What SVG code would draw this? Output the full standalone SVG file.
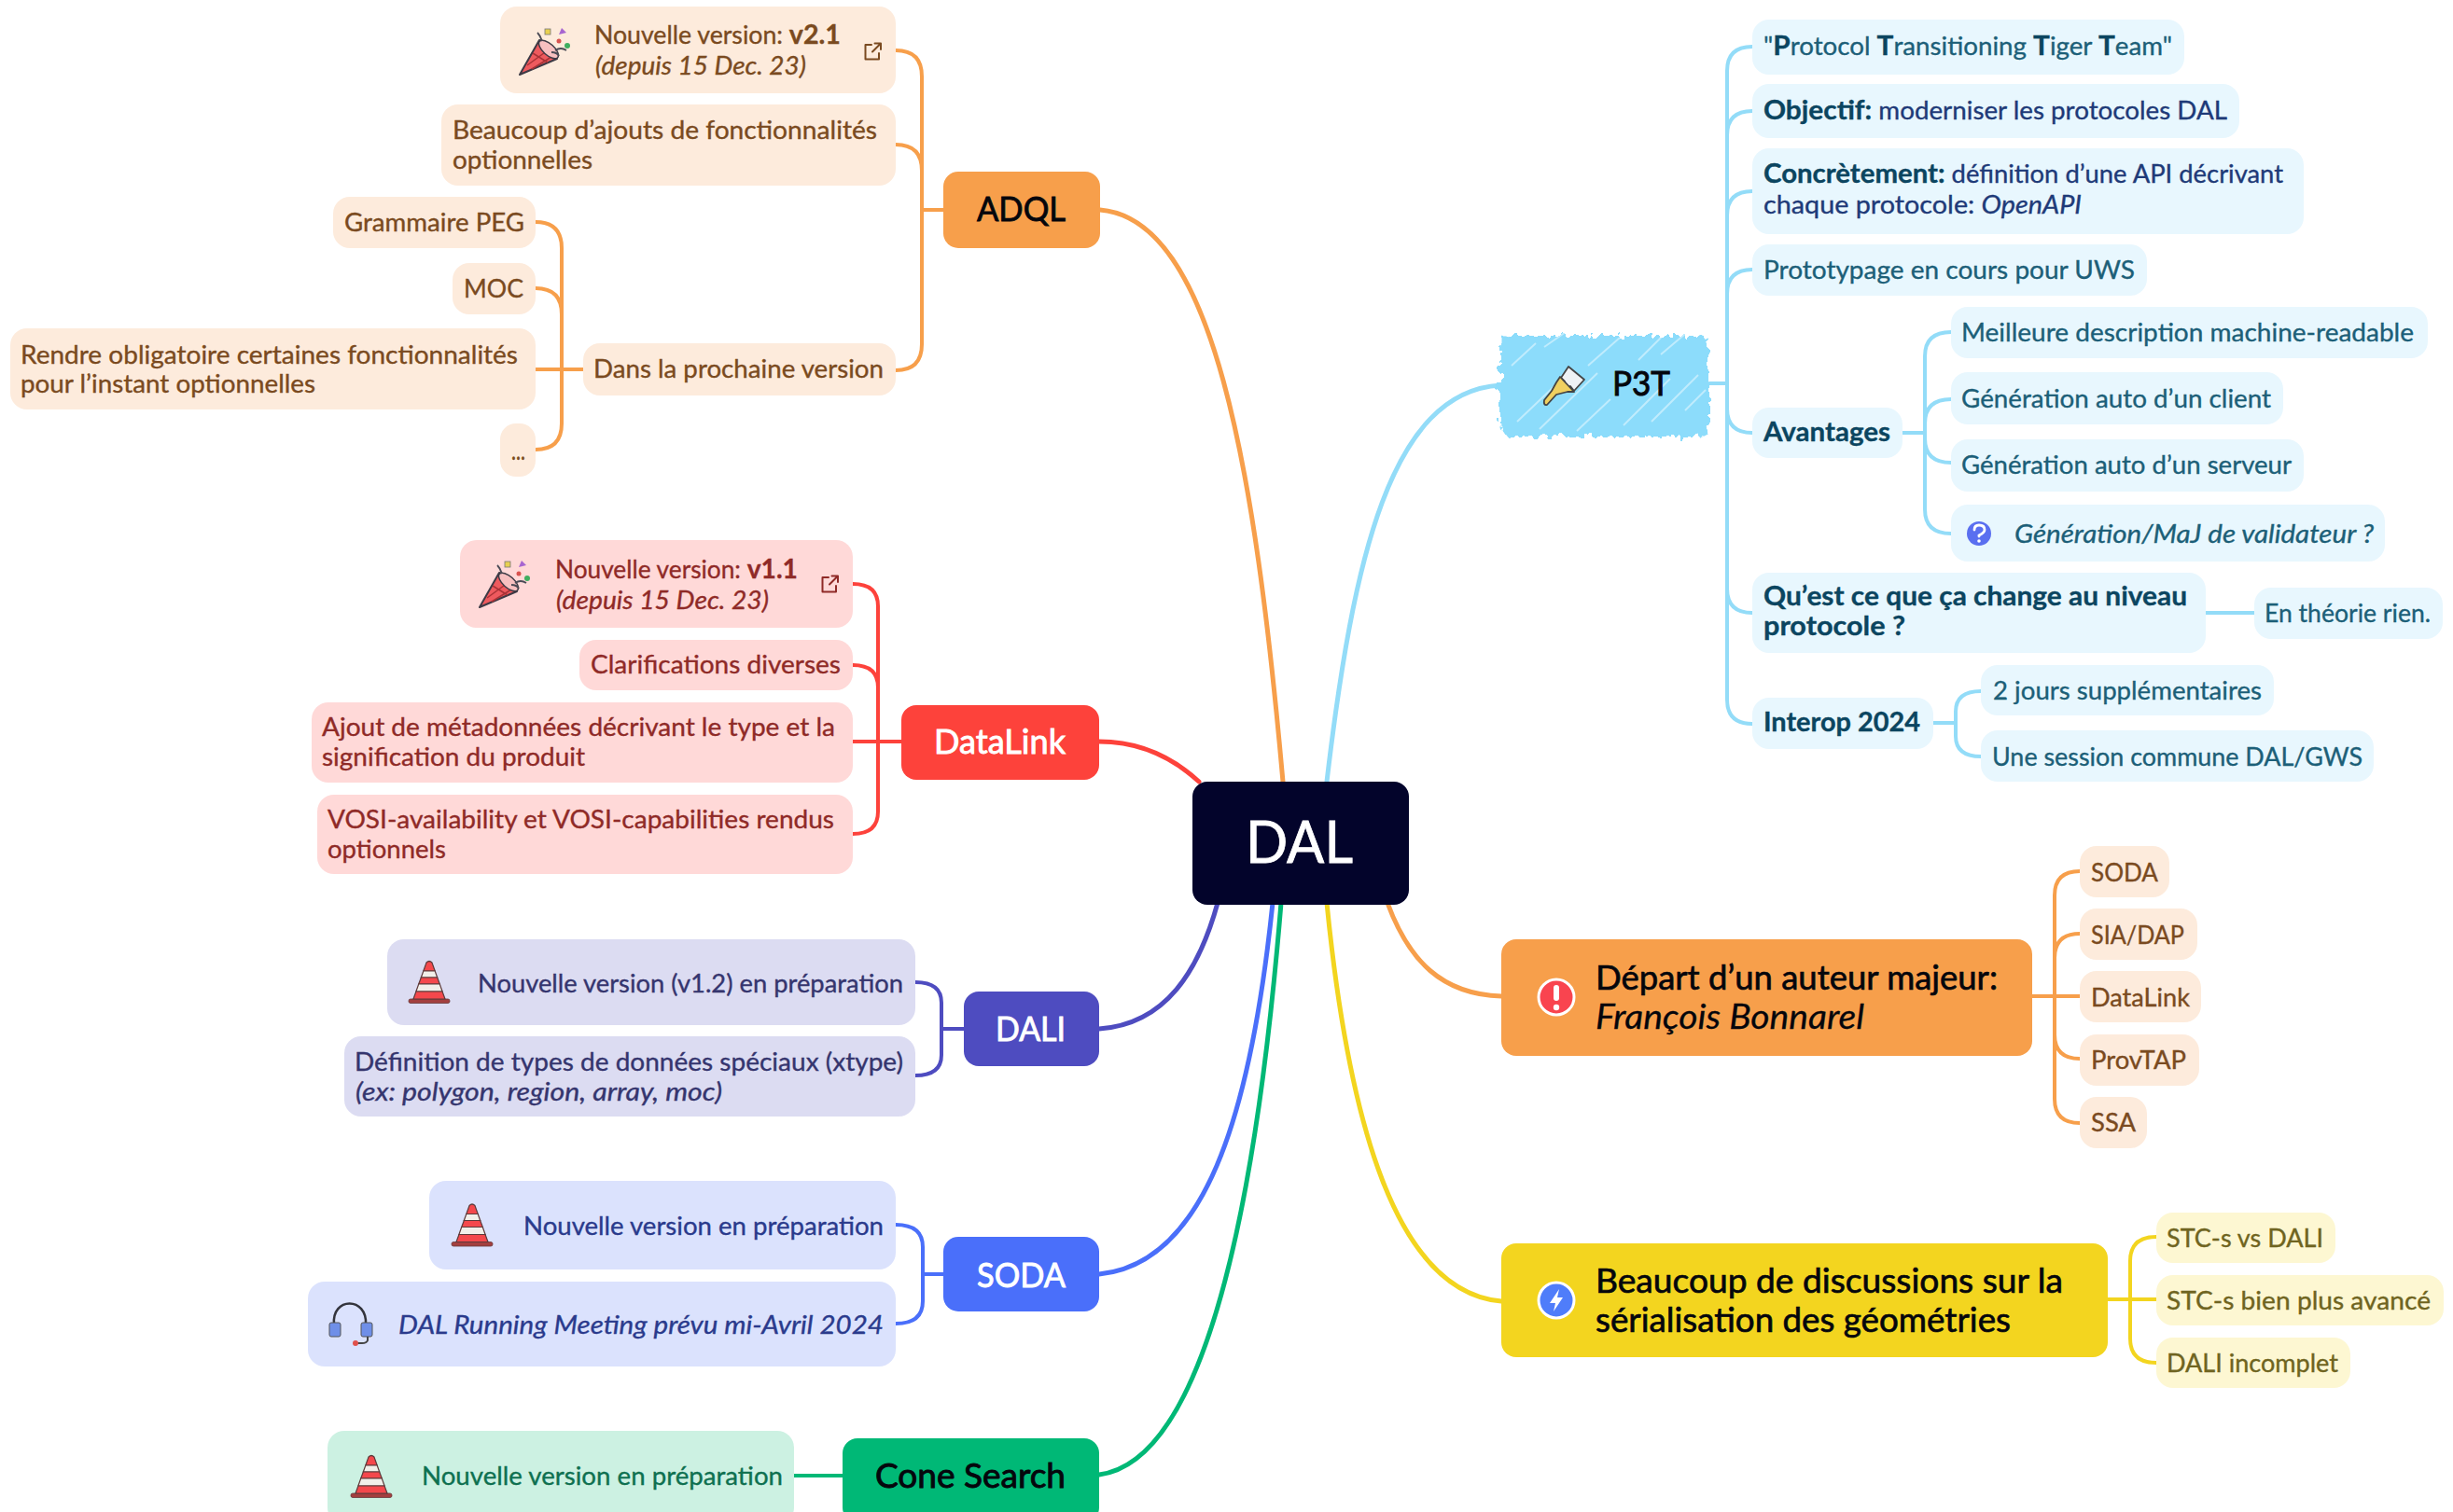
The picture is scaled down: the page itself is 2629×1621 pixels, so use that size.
<svg xmlns="http://www.w3.org/2000/svg" width="2629" height="1621" viewBox="0 0 2629 1621">
<style>
text{font-family:"Lato","Noto Sans",sans-serif;font-size:27px;fill:currentColor;stroke:currentColor;stroke-width:.35}
.b{font-weight:700;font-size:29px}
.i{font-style:italic}
.h{font-size:37px;stroke-width:.9}
.m{font-size:37px;stroke-width:.7}
.adql,.ora{color:#7a4a20}.adql rect,.ora rect{fill:#fdebdc}
.dl{color:#8f2a27}.dl rect{fill:#ffd9d8}
.dali{color:#35356e}.dali rect{fill:#dcdcf2}
.soda{color:#2a3a8c}.soda rect{fill:#dbe2fd}
.cone{color:#0e7050}.cone rect{fill:#ccf1e2}
.p3{color:#1c5f78}.p3 rect{fill:#e8f7fe}.p3 .n{color:#1e3a78}.p3 .b{color:#0b4560}
.yel{color:#6f6420}.yel rect{fill:#fdf7d2}
.wt{color:#fff}.bk{color:#05060c}
#connectors path{fill:none;stroke-width:4;stroke-linecap:round}
#connectors .main{stroke-width:5}
.co{stroke:#f79f4b}.cr{stroke:#fd423b}.cd{stroke:#4e4cc0}.cs{stroke:#4a6ffa}.cg{stroke:#00b876}.cb{stroke:#93dcf8}.cy{stroke:#f3d51f}
</style>
<defs>
<symbol id="cone" viewBox="0 0 44 48" overflow="visible">
<rect x="0" y="42" width="44" height="4.5" rx="2" fill="#a33f3f" stroke="#6a3a3a" stroke-width=".8"/>
<g stroke="#5c3a3a" stroke-width="1.2">
<path d="M19 3Q22 0 25 3L28.200 12H15.800Z" fill="#f4484c"/>
<path d="M15.800 12H28.200L30.700 19H13.300Z" fill="#f2efe9"/>
<path d="M13.300 19H30.700L33.300 26H10.700Z" fill="#f4484c"/>
<path d="M10.700 26H33.300L36.100 34H7.900Z" fill="#f2efe9"/>
<path d="M7.900 34H36.100L39 42H5Z" fill="#f4484c"/>
</g>
</symbol>
<symbol id="party" viewBox="0 0 58 52" overflow="visible">
<path d="M0 50L21 13Q34 16 40 33Z" fill="#ee5a5e" stroke="#3d3a45" stroke-width="2" stroke-linejoin="round"/>
<path d="M8 40L30 24M13 44L34 31M14 27L30 37" stroke="#a83236" stroke-width="1.500" fill="none"/>
<ellipse cx="31" cy="23" rx="13" ry="6" transform="rotate(42 31 23)" fill="#f7c0c0" stroke="#3d3a45" stroke-width="1.500"/>
<path d="M24 14Q22 8 19 5M34 26Q40 26 42 30 M38 24Q44 20 50 24" stroke="#4a4a55" stroke-width="1.800" fill="none"/>
<rect x="27" y="1" width="6" height="6" fill="#e8d050" stroke="#777" stroke-width=".8"/>
<path d="M42 7L45 0L50 5Z" fill="#a765d0"/>
<circle cx="42" cy="14" r="2.500" fill="#d9534f"/>
<circle cx="51" cy="19" r="3" fill="#3fae60"/>
</symbol>
<symbol id="ext" viewBox="0 0 20 20" overflow="visible">
<path d="M9 3H2.500V18.500H17V12M10 10.500L18.500 2M12.500 1.500H19V8" fill="none" stroke-width="2" stroke-linecap="round" stroke-linejoin="round"/>
</symbol>
<filter id="rough" x="-8%" y="-15%" width="116%" height="130%">
<feTurbulence type="fractalNoise" baseFrequency="0.14 0.1" numOctaves="2" seed="7"/>
<feDisplacementMap in="SourceGraphic" scale="14" xChannelSelector="R" yChannelSelector="G"/>
</filter>
</defs>
<rect width="2629" height="1621" fill="#fff"/>
<g id="connectors">
<path class="co main" d="M1179 225C1300 235 1345 500 1375 838"/>
<path class="cr main" d="M1178 795C1225 795 1260 815 1285 838"/>
<path class="cd main" d="M1178 1103C1250 1098 1285 1040 1305 968"/>
<path class="cs main" d="M1178 1366C1290 1355 1340 1200 1364 968"/>
<path class="cg main" d="M1178 1581C1300 1565 1350 1250 1373 968"/>
<path class="cb main" d="M1422 838C1450 600 1490 420 1608 413"/>
<path class="co main" d="M1487 968C1510 1030 1545 1066 1609 1068"/>
<path class="cy main" d="M1422 968C1445 1200 1495 1385 1609 1395"/>
<path class="co" d="M960 54Q988 54 988 82V369Q988 397 960 397M960 155Q988 155 988 183M988 225H1011"/>
<path class="co" d="M574 238Q602 238 602 266V454Q602 482 574 482M574 309Q602 309 602 337M574 396H625"/>
<path class="cr" d="M914 626Q941 626 941 650V870Q941 894 914 894M914 713Q941 713 941 737M914 795H966"/>
<path class="cd" d="M981 1053Q1009 1053 1009 1075V1131Q1009 1153 981 1153M1009 1103H1033"/>
<path class="cs" d="M960 1313Q989 1313 989 1337V1395Q989 1419 960 1419M989 1366H1011"/>
<path class="cg" d="M851 1582H903"/>
<path class="cb" d="M1878 50Q1851 50 1851 76V750Q1851 776 1878 776M1878 119Q1851 119 1851 145M1878 205Q1851 205 1851 231M1878 289Q1851 289 1851 315M1878 464Q1851 464 1851 438M1878 657Q1851 657 1851 631M1832 411H1851"/>
<path class="cb" d="M2091 356Q2063 356 2063 382V546Q2063 572 2091 572M2091 428Q2063 428 2063 454M2091 496Q2063 496 2063 470M2039 464H2063"/>
<path class="cb" d="M2364 657H2416"/>
<path class="cb" d="M2123 741Q2096 741 2096 763V789Q2096 811 2123 811M2072 775H2096"/>
<path class="co" d="M2229 934Q2202 934 2202 960V1178Q2202 1204 2229 1204M2229 1001Q2202 1001 2202 1027M2229 1135Q2202 1135 2202 1109M2177 1068H2229"/>
<path class="cy" d="M2311 1326Q2283 1326 2283 1352V1435Q2283 1461 2311 1461M2259 1393H2311"/>
</g>

<g id="center"><rect x="1278" y="838" width="232" height="132" rx="16" fill="#03042b"/><text x="1335" y="925" class="wt" style="font-size:62px;stroke-width:.8" textLength="115" lengthAdjust="spacingAndGlyphs">DAL</text></g>

<g id="adql" class="adql">
<g id="a1"><rect x="536" y="7" width="424" height="93" rx="18"/><use href="#party" x="557" y="30" width="58" height="52"/><text><tspan x="637" y="47" textLength="264" lengthAdjust="spacingAndGlyphs">Nouvelle version: <tspan class="b">v2.1</tspan></tspan><tspan x="638" y="80" class="i" textLength="226" lengthAdjust="spacingAndGlyphs">(depuis 15 Dec. 23)</tspan></text><use href="#ext" x="925" y="45" width="20" height="20" stroke="#7a4a20"/></g>
<g id="a2"><rect x="473" y="112" width="487" height="87" rx="18"/><text><tspan x="485" y="149" textLength="455" lengthAdjust="spacingAndGlyphs">Beaucoup d’ajouts de fonctionnalités</tspan><tspan x="485" y="181" textLength="150" lengthAdjust="spacingAndGlyphs">optionnelles</tspan></text></g>
<g id="a3"><rect x="357" y="211" width="217" height="55" rx="18"/><text x="369" y="248" textLength="193" lengthAdjust="spacingAndGlyphs">Grammaire PEG</text></g>
<g id="a4"><rect x="485" y="282" width="89" height="55" rx="18"/><text x="497" y="319" textLength="64" lengthAdjust="spacingAndGlyphs">MOC</text></g>
<g id="a5"><rect x="11" y="352" width="563" height="87" rx="18"/><text><tspan x="22" y="390" textLength="533" lengthAdjust="spacingAndGlyphs">Rendre obligatoire certaines fonctionnalités</tspan><tspan x="22" y="421" textLength="316" lengthAdjust="spacingAndGlyphs">pour l’instant optionnelles</tspan></text></g>
<g id="a6"><rect x="536" y="454" width="38" height="57" rx="17"/><text x="548" y="493" textLength="15" lengthAdjust="spacingAndGlyphs">...</text></g>
<g id="a7"><rect x="625" y="368" width="335" height="56" rx="18"/><text x="636" y="405" textLength="311" lengthAdjust="spacingAndGlyphs">Dans la prochaine version</text></g>
<g id="adql-node"><rect x="1011" y="184" width="168" height="82" rx="16" style="fill:#f79f4b"/><text x="1047" y="237" class="h bk" textLength="95" lengthAdjust="spacingAndGlyphs">ADQL</text></g>
</g>

<g id="datalink" class="dl">
<g id="d1"><rect x="493" y="579" width="421" height="94" rx="18"/><use href="#party" x="514" y="601" width="58" height="52"/><text><tspan x="595" y="620" textLength="260" lengthAdjust="spacingAndGlyphs">Nouvelle version: <tspan class="b">v1.1</tspan></tspan><tspan x="596" y="653" class="i" textLength="228" lengthAdjust="spacingAndGlyphs">(depuis 15 Dec. 23)</tspan></text><use href="#ext" x="879" y="616" width="20" height="20" stroke="#8f2a27"/></g>
<g id="d2"><rect x="621" y="686" width="293" height="54" rx="18"/><text x="633" y="722" textLength="268" lengthAdjust="spacingAndGlyphs">Clarifications diverses</text></g>
<g id="d3"><rect x="334" y="753" width="580" height="86" rx="18"/><text><tspan x="345" y="789" textLength="550" lengthAdjust="spacingAndGlyphs">Ajout de métadonnées décrivant le type et la</tspan><tspan x="345" y="821" textLength="282" lengthAdjust="spacingAndGlyphs">signification du produit</tspan></text></g>
<g id="d4"><rect x="340" y="852" width="574" height="85" rx="18"/><text><tspan x="351" y="888" textLength="543" lengthAdjust="spacingAndGlyphs">VOSI-availability et VOSI-capabilities rendus</tspan><tspan x="351" y="920" textLength="127" lengthAdjust="spacingAndGlyphs">optionnels</tspan></text></g>
<g id="datalink-node"><rect x="966" y="756" width="212" height="80" rx="16" style="fill:#fd423b"/><text x="1001" y="808" class="h wt" textLength="141" lengthAdjust="spacingAndGlyphs">DataLink</text></g>
</g>

<g id="dali" class="dali">
<g id="l1"><rect x="415" y="1007" width="566" height="92" rx="18"/><use href="#cone" x="438" y="1029" width="44" height="48"/><text x="512" y="1064" textLength="456" lengthAdjust="spacingAndGlyphs">Nouvelle version (v1.2) en préparation</text></g>
<g id="l2"><rect x="369" y="1111" width="612" height="86" rx="18"/><text><tspan x="380" y="1148" textLength="588" lengthAdjust="spacingAndGlyphs">Définition de types de données spéciaux (xtype)</tspan><tspan x="381" y="1180" class="i" textLength="393" lengthAdjust="spacingAndGlyphs">(ex: polygon, region, array, moc)</tspan></text></g>
<g id="dali-node"><rect x="1033" y="1063" width="145" height="80" rx="16" style="fill:#4e4cc0"/><text x="1067" y="1116" class="h wt" textLength="75" lengthAdjust="spacingAndGlyphs">DALI</text></g>
</g>

<g id="soda" class="soda">
<g id="s1"><rect x="460" y="1266" width="500" height="95" rx="18"/><use href="#cone" x="484" y="1289" width="44" height="49"/><text x="561" y="1324" textLength="386" lengthAdjust="spacingAndGlyphs">Nouvelle version en préparation</text></g>
<g id="s2"><rect x="330" y="1374" width="630" height="91" rx="18"/>
<path d="M358 1420C355 1390 394 1390 392 1420" fill="none" stroke="#33343c" stroke-width="2.500"/><rect x="353" y="1418" width="12" height="15" rx="2" style="fill:#6f8fe8" stroke="#555"/><rect x="387" y="1418" width="12" height="15" rx="2" style="fill:#6f8fe8" stroke="#555"/><path d="M394 1433V1437Q393 1440 388 1440H382" fill="none" stroke="#444" stroke-width="2"/><circle cx="381" cy="1440" r="3" fill="#e0504c"/>
<text x="427" y="1430" class="i" textLength="520" lengthAdjust="spacingAndGlyphs">DAL Running Meeting prévu mi-Avril 2024</text></g>
<g id="soda-node"><rect x="1011" y="1326" width="167" height="80" rx="16" style="fill:#4a6ffa"/><text x="1047" y="1380" class="h wt" textLength="95" lengthAdjust="spacingAndGlyphs">SODA</text></g>
</g>

<g id="cone-search" class="cone">
<g id="c1"><rect x="351" y="1534" width="500" height="100" rx="18"/><use href="#cone" x="376" y="1559" width="44" height="48"/><text x="452" y="1592" textLength="387" lengthAdjust="spacingAndGlyphs">Nouvelle version en préparation</text></g>
<g id="cone-node"><rect x="903" y="1542" width="275" height="90" rx="16" style="fill:#00b876"/><text x="938" y="1595" class="h bk" textLength="204" lengthAdjust="spacingAndGlyphs">Cone Search</text></g>
</g>

<g id="p3t" class="p3">
<g id="p3t-node">
<rect x="1607" y="360" width="224" height="108" rx="12" style="fill:#8cdcfb" filter="url(#rough)"/>
<path d="M1626 452L1668 412M1650 460L1712 400M1690 462L1726 428M1740 456L1790 406M1770 452L1820 402M1780 380L1806 358M1702 392L1736 362M1620 392L1646 368M1655 372L1678 356M1756 386L1782 360M1806 440L1828 418" stroke="#fff" stroke-opacity=".45" stroke-width="2" fill="none"/>
<g transform="translate(1654 392)" stroke="#444" stroke-width="1.800" stroke-linejoin="round"><path d="M19 13L27 1L44 15L33 27L29 22L26 25L23 17Z" fill="#eef2f5"/><path d="M18 12L33 28L26 28L14 31L4 42Q0 43 1 37L9 27L14 18Z" fill="#f0d060"/></g>
<text x="1728" y="424" class="h bk" textLength="62" lengthAdjust="spacingAndGlyphs">P3T</text>
</g>
<g id="p1"><rect x="1878" y="21" width="463" height="59" rx="18"/><text x="1890" y="59" textLength="438" lengthAdjust="spacingAndGlyphs">"<tspan class="b">P</tspan>rotocol <tspan class="b">T</tspan>ransitioning <tspan class="b">T</tspan>iger <tspan class="b">T</tspan>eam"</text></g>
<g id="p2"><rect x="1878" y="90" width="522" height="58" rx="18"/><text x="1890" y="128" textLength="497" lengthAdjust="spacingAndGlyphs"><tspan class="b">Objectif:</tspan> <tspan class="n">moderniser les protocoles DAL</tspan></text></g>
<g id="p3"><rect x="1878" y="159" width="591" height="92" rx="18"/><text><tspan x="1890" y="196" textLength="557" lengthAdjust="spacingAndGlyphs"><tspan class="b">Concrètement:</tspan> <tspan class="n">définition d’une API décrivant</tspan></tspan><tspan x="1890" y="229" textLength="341" lengthAdjust="spacingAndGlyphs" class="n">chaque protocole: <tspan class="i n">OpenAPI</tspan></tspan></text></g>
<g id="p4"><rect x="1878" y="262" width="423" height="55" rx="18"/><text x="1890" y="299" textLength="398" lengthAdjust="spacingAndGlyphs">Prototypage en cours pour UWS</text></g>
<g id="p5"><rect x="1878" y="437" width="161" height="54" rx="18"/><text x="1890" y="473" class="b" textLength="136" lengthAdjust="spacingAndGlyphs">Avantages</text></g>
<g id="p6"><rect x="2091" y="329" width="511" height="55" rx="18"/><text x="2102" y="366" textLength="485" lengthAdjust="spacingAndGlyphs">Meilleure description machine-readable</text></g>
<g id="p7"><rect x="2091" y="399" width="356" height="56" rx="18"/><text x="2102" y="437" textLength="332" lengthAdjust="spacingAndGlyphs">Génération auto d’un client</text></g>
<g id="p8"><rect x="2091" y="471" width="378" height="56" rx="18"/><text x="2102" y="508" textLength="354" lengthAdjust="spacingAndGlyphs">Génération auto d’un serveur</text></g>
<g id="p9"><rect x="2091" y="541" width="465" height="61" rx="18"/><circle cx="2121" cy="572" r="13" fill="#5a6ff0"/><path d="M2116 568Q2116 563 2121 563Q2127 563 2127 568Q2127 571 2121 574V575" fill="none" stroke="#fff" stroke-width="2.800" stroke-linecap="round"/><circle cx="2121" cy="580" r="1.800" fill="#fff"/><text x="2159" y="582" class="i" textLength="385" lengthAdjust="spacingAndGlyphs">Génération/MaJ de validateur ?</text></g>
<g id="p10"><rect x="1878" y="614" width="486" height="86" rx="18"/><text class="b"><tspan x="1890" y="649" textLength="454" lengthAdjust="spacingAndGlyphs">Qu’est ce que ça change au niveau</tspan><tspan x="1890" y="681" textLength="152" lengthAdjust="spacingAndGlyphs">protocole ?</tspan></text></g>
<g id="p11"><rect x="2416" y="630" width="202" height="55" rx="18"/><text x="2427" y="667" textLength="178" lengthAdjust="spacingAndGlyphs">En théorie rien.</text></g>
<g id="p12"><rect x="1878" y="748" width="194" height="55" rx="18"/><text x="1890" y="784" class="b" textLength="168" lengthAdjust="spacingAndGlyphs">Interop 2024</text></g>
<g id="p13"><rect x="2123" y="713" width="314" height="54" rx="18"/><text x="2136" y="750" textLength="288" lengthAdjust="spacingAndGlyphs">2 jours supplémentaires</text></g>
<g id="p14"><rect x="2123" y="783" width="421" height="55" rx="18"/><text x="2135" y="821" textLength="397" lengthAdjust="spacingAndGlyphs">Une session commune DAL/GWS</text></g>
</g>

<g id="depart" class="ora">
<g id="depart-node"><rect x="1609" y="1007" width="569" height="125" rx="16" style="fill:#f79f4b"/><circle cx="1668" cy="1069" r="19" fill="#f9444f" stroke="#fff" stroke-width="3"/><rect x="1665" y="1056" width="6" height="17" rx="3" style="fill:#fff"/><circle cx="1668" cy="1080" r="3.200" fill="#fff"/><text class="m bk"><tspan x="1710" y="1061" textLength="431" lengthAdjust="spacingAndGlyphs">Départ d’un auteur majeur:</tspan><tspan x="1710" y="1103" class="i" textLength="288" lengthAdjust="spacingAndGlyphs" style="stroke-width:.3">François Bonnarel</tspan></text></g>
<g id="o1"><rect x="2229" y="907" width="96" height="55" rx="18"/><text x="2241" y="945" textLength="72" lengthAdjust="spacingAndGlyphs">SODA</text></g>
<g id="o2"><rect x="2229" y="974" width="126" height="55" rx="18"/><text x="2241" y="1012" textLength="100" lengthAdjust="spacingAndGlyphs">SIA/DAP</text></g>
<g id="o3"><rect x="2229" y="1041" width="130" height="55" rx="18"/><text x="2241" y="1079" textLength="106" lengthAdjust="spacingAndGlyphs">DataLink</text></g>
<g id="o4"><rect x="2229" y="1109" width="128" height="55" rx="18"/><text x="2241" y="1146" textLength="102" lengthAdjust="spacingAndGlyphs">ProvTAP</text></g>
<g id="o5"><rect x="2229" y="1176" width="72" height="55" rx="18"/><text x="2241" y="1213" textLength="48" lengthAdjust="spacingAndGlyphs">SSA</text></g>
</g>

<g id="geom" class="yel">
<g id="geom-node"><rect x="1609" y="1333" width="650" height="122" rx="16" style="fill:#f3d51f"/><circle cx="1668" cy="1394" r="19" fill="#4f7dfa" stroke="#fff" stroke-width="3"/><path d="M1671 1382L1661 1397H1667L1665 1406L1675 1391H1669Z" fill="#fff"/><text class="m bk"><tspan x="1710" y="1386" textLength="501" lengthAdjust="spacingAndGlyphs">Beaucoup de discussions sur la</tspan><tspan x="1710" y="1428" textLength="445" lengthAdjust="spacingAndGlyphs">sérialisation des géométries</tspan></text></g>
<g id="y1"><rect x="2311" y="1300" width="192" height="54" rx="18"/><text x="2322" y="1337" textLength="168" lengthAdjust="spacingAndGlyphs">STC-s vs DALI</text></g>
<g id="y2"><rect x="2311" y="1367" width="308" height="54" rx="18"/><text x="2322" y="1404" textLength="283" lengthAdjust="spacingAndGlyphs">STC-s bien plus avancé</text></g>
<g id="y3"><rect x="2311" y="1434" width="208" height="54" rx="18"/><text x="2322" y="1471" textLength="184" lengthAdjust="spacingAndGlyphs">DALI incomplet</text></g>
</g>
</svg>
